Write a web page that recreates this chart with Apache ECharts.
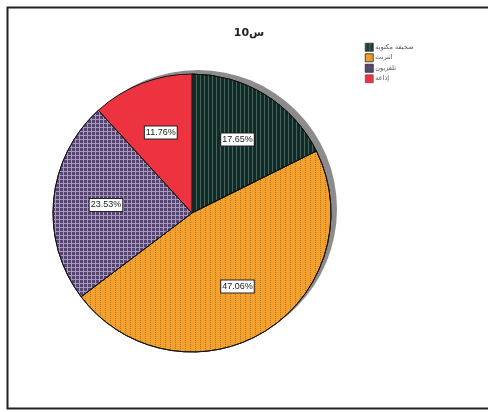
<!DOCTYPE html>
<html><head><meta charset="utf-8">
<script src="https://cdn.jsdelivr.net/npm/echarts@6/dist/echarts.min.js"></script>
<style>html,body{margin:0;padding:0;background:#fff}#c{width:488px;height:412px}</style>
</head><body><div id="c"></div>
<script>
const titleText = 'س10';
const categories = ['صحيفة مكتوبة', 'انترنت', 'تلفزيون', 'إذاعة'];
const values = [17.65, 47.06, 23.53, 11.76];
const labels = ['17.65%', '47.06%', '23.53%', '11.76%'];

const colors = ['#142a27', '#f2a12e', '#a897c0', '#ee3340'];
const legendColors = ['#1f3e3a', '#f2a12e', '#5e4e78', '#ee3340'];
const decals = [
  {symbol:'rect', symbolSize:1, dashArrayX:[1,3], dashArrayY:[10,0], color:'rgba(100,140,130,0.6)'},
  {symbol:'rect', symbolSize:1, dashArrayX:[1,4], dashArrayY:[1,1], color:'rgba(140,85,10,0.55)'},
  {symbol:'rect', symbolSize:1, dashArrayX:[3,1], dashArrayY:[3,1], color:'#54446e'},
  null
];

const cx = 192, cy = 213, R = 139;
const chart = echarts.init(document.getElementById('c'), null, {renderer:'canvas'});
chart.setOption({
  animation:false,
  title:{text:titleText, left:244, top:23, textAlign:'center',
    textStyle:{fontSize:11, fontWeight:'bold', color:'#222', fontFamily:'DejaVu Sans'}},
  legend:{
    left:360, top:38, orient:'vertical', itemWidth:8, itemHeight:8, itemGap:2,
    icon:'rect',
    data: categories.map((c,i)=>({name:c, itemStyle:{color:legendColors[i], borderColor:'#333', borderWidth:0.5}})),
    textStyle:{fontSize:6.5, color:'#555', padding:[0,0,0,-3], fontFamily:'DejaVu Sans'}
  },
  graphic:[{type:'rect', left:5, top:5, shape:{width:490, height:401}, style:{fill:'none', stroke:'#222', lineWidth:2}, silent:true}],
  series:[
    {type:'pie', silent:true, center:[cx+6, cy-4], radius:[0,R], label:{show:false}, labelLine:{show:false},
     data:[{value:1, name:'_shadow', itemStyle:{color:'#8c8c8c'}}], legendHoverLink:false, z:1},
    {type:'pie', center:[cx,cy], radius:[0,R], startAngle:90, clockwise:true,
     label:{show:false}, labelLine:{show:false},
     itemStyle:{borderColor:'#111', borderWidth:1},
     data: categories.map((c,i)=>({name:c, value:values[i], itemStyle:{color:colors[i], decal:decals[i]||undefined}})), z:2},
    {type:'pie', silent:true, center:[cx,cy], radius:[0,R*1.2], startAngle:90, clockwise:true,
     labelLine:{show:false}, legendHoverLink:false,
     itemStyle:{color:'rgba(0,0,0,0)', borderWidth:0},
     label:{show:true, position:'inside', formatter:(p)=>labels[p.dataIndex], fontSize:9, color:'#222',
       backgroundColor:'#fff', borderColor:'#222', borderWidth:1, padding:[2,1,1,1], fontFamily:'Liberation Sans Narrow, Liberation Sans'},
     data: categories.map((c,i)=>({name:c+' ', value:values[i]})), z:3}
  ]
});
</script></body></html>
